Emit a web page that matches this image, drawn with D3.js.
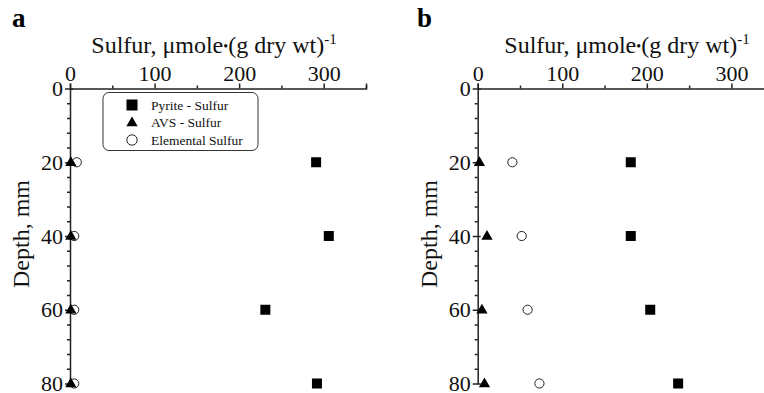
<!DOCTYPE html>
<html><head><meta charset="utf-8">
<script src="https://cdn.jsdelivr.net/npm/d3@7"></script>
<style>
body{margin:0;background:#fff;}
svg{display:block;font-family:"Liberation Serif","Times New Roman",serif;}
</style></head>
<body><svg id="c" width="764" height="393"></svg>
<script>
const depths = [20, 40, 60, 80];
const pyriteA = [291, 306, 231, 292];
const avsA = [1, 1, 1, 1];
const elemA = [8, 5, 5, 5];
const pyriteB = [181, 181, 204, 237];
const avsB = [2, 11, 5, 8];
const elemB = [41, 52, 59, 73];
const xMajor = [0, 100, 200, 300];
const xMinor = [50, 150, 250, 350];
const yMajor = [0, 20, 40, 60, 80];
const yMinor = d3.range(4, 80, 4).filter(v => v % 20 !== 0);
const seriesNames = ["Pyrite - Sulfur", "AVS - Sulfur", "Elemental Sulfur"];

const svg = d3.select("#c");

function panel(letter, x0, pyr, avs, elem, withLegend, letterX, titleX, ylabX) {
  const top = 88.5, bottom = 383.5;
  const x = d3.scaleLinear().domain([0, 350]).range([x0, x0 + 296]);
  const y = d3.scaleLinear().domain([0, 80]).range([top, bottom]);
  const g = svg.append("g");

  g.append("text").attr("x", letterX).attr("y", 27).attr("font-size", 27)
    .attr("font-weight", "bold").attr("fill", "#000").text(letter);

  const t = g.append("text").attr("x", titleX).attr("y", 53).attr("font-size", 24)
    .attr("text-anchor", "middle").attr("fill", "#111");
  t.append("tspan").text("Sulfur, \u03bcmole");
  t.append("tspan").attr("font-size", 14).attr("dy", -2).text("\u2022");
  t.append("tspan").attr("dy", 2).text("(g dry wt)");
  t.append("tspan").attr("dy", -9).attr("font-size", 15).text("-1");

  g.append("text").attr("transform", `translate(${ylabX},234) rotate(-90)`)
    .attr("text-anchor", "middle").attr("font-size", 24).attr("fill", "#111").text("Depth, mm");

  const xa = g.append("g").attr("transform", `translate(0,${top})`)
    .call(d3.axisTop(x).tickValues(xMajor).tickSize(5).tickPadding(3).tickFormat(d3.format("d")));
  g.append("g").attr("transform", `translate(0,${top})`)
    .call(d3.axisTop(x).tickValues(xMinor).tickSize(3).tickFormat(""))
    .select(".domain").remove();
  xa.selectAll("text").attr("font-size", 22).attr("fill", "#111").attr("font-family", "Liberation Serif");

  const ya = g.append("g").attr("transform", `translate(${x0},0)`)
    .call(d3.axisLeft(y).tickValues(yMajor).tickSizeInner(5).tickSizeOuter(0).tickPadding(2).tickFormat(d3.format("d")));
  ya.selectAll(".tick line").attr("x2", 3).attr("x1", -5);
  ya.selectAll("text").attr("font-size", 22).attr("fill", "#111").attr("font-family", "Liberation Serif");
  g.append("g").attr("transform", `translate(${x0},0)`)
    .call(d3.axisLeft(y).tickValues(yMinor).tickSize(3).tickFormat(""))
    .select(".domain").remove();
  g.selectAll(".domain, .tick line").attr("stroke", "#222").attr("stroke-width", 1.5);

  const tri = d3.symbol().type(d3.symbolTriangle).size(55);

  g.selectAll(".pyr").data(depths).join("rect")
    .attr("x", (d, i) => x(pyr[i]) - 5).attr("y", d => y(d) - 5)
    .attr("width", 10).attr("height", 10).attr("fill", "#000");
  g.selectAll(".elem").data(depths).join("circle")
    .attr("cx", (d, i) => x(elem[i])).attr("cy", d => y(d)).attr("r", 4.6)
    .attr("fill", "none").attr("stroke", "#222").attr("stroke-width", 1);
  g.selectAll(".avs").data(depths).join("path")
    .attr("transform", (d, i) => `translate(${x(avs[i])},${y(d) + 0.5})`)
    .attr("d", tri).attr("fill", "#000");

  if (withLegend) {
    const lg = g.append("g");
    lg.append("rect").attr("x", 103).attr("y", 92.5).attr("width", 155).attr("height", 58)
      .attr("rx", 6).attr("fill", "#fff").attr("stroke", "#333").attr("stroke-width", 1);
    const ys = [105, 122.5, 140];
    lg.append("rect").attr("x", 126.5).attr("y", ys[0] - 5.5).attr("width", 11).attr("height", 11).attr("fill", "#000");
    lg.append("path").attr("transform", `translate(132,${ys[1] + 0.5})`).attr("d", tri).attr("fill", "#000");
    lg.append("circle").attr("cx", 132).attr("cy", ys[2]).attr("r", 5.2).attr("fill", "none").attr("stroke", "#222");
    lg.selectAll(".lt").data(seriesNames).join("text")
      .attr("x", 151).attr("y", (d, i) => ys[i] + 4.5).attr("font-size", 13.5).attr("fill", "#111").text(d => d);
  }
}

panel("a", 70, pyriteA, avsA, elemA, true, 12, 214, 29);
panel("b", 477.7, pyriteB, avsB, elemB, false, 417, 627, 437);
</script></body></html>
